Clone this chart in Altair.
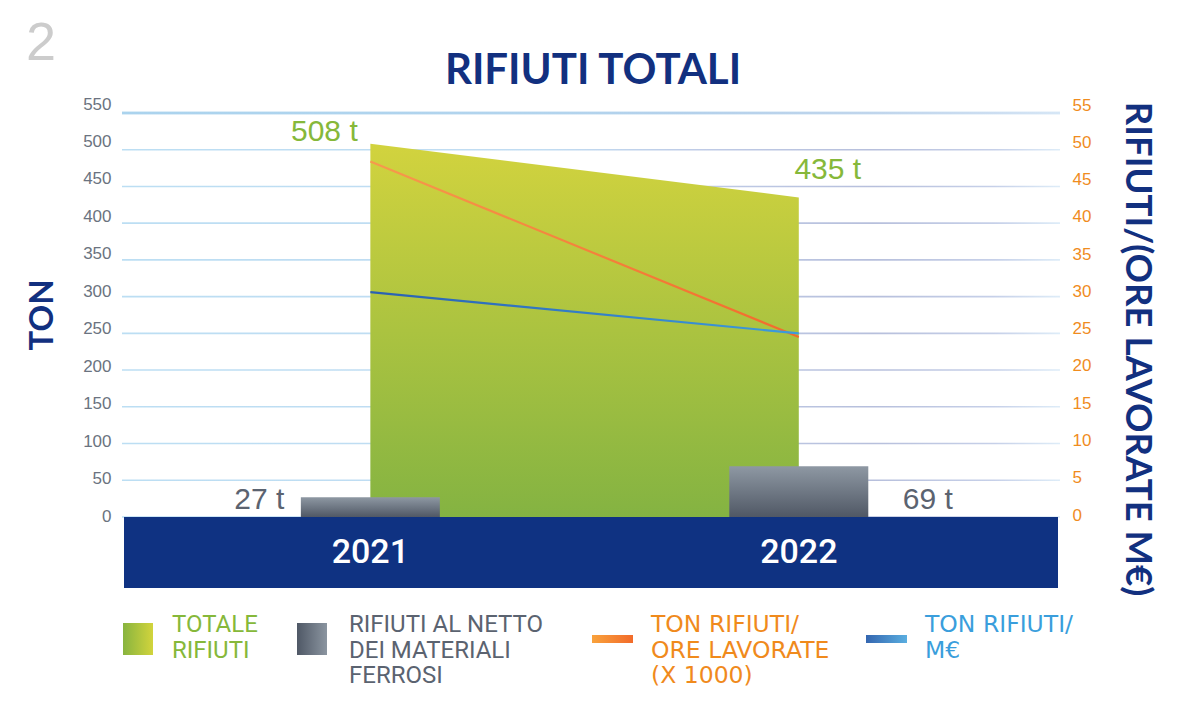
import altair as alt
import pandas as pd

# ---------------- data ----------------
years = [2021, 2022]
totale_rifiuti = [508, 435]                 # t (left axis)
rifiuti_netto_ferrosi = [27, 69]            # t (left axis)
ton_ore_lavorate_x1000 = [48.4, 24.5]       # right axis
ton_per_meur = [30.6, 25.0]                 # right axis

left_ticks = list(range(0, 551, 50))
right_ticks = list(range(0, 56, 5))

title_text = "RIFIUTI TOTALI"
left_title = "TON"
right_title = "RIFIUTI/(ORE LAVORATE M€)"
legend_labels = [
    ["TOTALE", "RIFIUTI"],
    ["RIFIUTI AL NETTO", "DEI MATERIALI", "FERROSI"],
    ["TON RIFIUTI/", "ORE LAVORATE", "(X 1000)"],
    ["TON RIFIUTI/", "M€"],
]

df = pd.DataFrame({
    "year": years,
    "total": totale_rifiuti,
    "netto": rifiuti_netto_ferrosi,
    "ore": ton_ore_lavorate_x1000,
    "meur": ton_per_meur,
})
ticks_df = pd.DataFrame({"tick": left_ticks})
rticks_df = pd.DataFrame({"rtick": right_ticks})

# ---------------- styling ----------------
W, H = 938, 475
NAVY = "#12307f"
GREEN_TXT = "#86b83a"
GRAY_TXT = "#5b6370"
ORANGE_TXT = "#f08a1c"
BLUE_TXT = "#3a9edc"

def lg(stops, x1=0, y1=0, x2=1, y2=0):
    return alt.LinearGradient(
        gradient="linear",
        stops=[alt.GradientStop(color=c, offset=o) for o, c in stops],
        x1=x1, y1=y1, x2=x2, y2=y2,
    )

xscale = alt.Scale(domain=[2020.432, 2022.598], nice=False, zero=False)
X = alt.X("year:Q", scale=xscale, axis=None)

# plotting scales (grid / marks)
yl_scale = alt.Scale(domain=[-96.7, 550], nice=False, zero=False)
yr_scale = alt.Scale(domain=[-9.67, 55], nice=False, zero=False)
# tick-label scales (labels in the reference are spaced slightly wider than the grid)
yl_lab_scale = alt.Scale(domain=[0, 550], range=[403, -9], nice=False, zero=False)
yr_lab_scale = alt.Scale(domain=[0, 55], range=[402, -8], nice=False, zero=False)

left_axis = alt.Axis(values=left_ticks, grid=False, domain=False, ticks=False,
                     orient="left",
                     labelColor="#6b7380", labelFontSize=17, labelFont="Liberation Sans",
                     labelPadding=11, title=None)
right_axis = alt.Axis(values=right_ticks, orient="right", grid=False, domain=False,
                      ticks=False, labelColor="#f08c1e", labelFontSize=17,
                      labelFont="Liberation Sans", labelPadding=12, title=None)

def YL(field):
    return alt.Y(field, scale=yl_scale, axis=None)

def YR(field):
    return alt.Y(field, scale=yr_scale, axis=None)

grid_grad = lg([(0, "#9fd0ee"), (0.45, "#a6cdec"), (0.62, "#a3b4db"),
                (0.8, "#98a4cd"), (0.93, "#aebcdf"), (1, "#cfe4f5")])

one = pd.DataFrame({"a": [0]})

# grid lines
grid = alt.Chart(ticks_df).mark_tick(thickness=1.6, size=W, color=grid_grad).encode(
    y=YL("tick:Q")
)
top_line = alt.Chart(ticks_df).transform_filter("datum.tick == 550").mark_tick(
    thickness=3, size=W, color=lg([(0, "#9ccbea"), (0.6, "#a8cdea"), (1, "#cfe2f4")])
).encode(y=YL("tick:Q"))

# bottom navy band
band = alt.Chart(one).mark_rect(color="#0f3282").encode(
    x=alt.value(2), x2=alt.value(936), y=alt.value(404), y2=alt.value(H)
)

area = alt.Chart(df).mark_area(
    color=lg([(0, "#d2d33e"), (1, "#84b342")], x1=0, y1=0, x2=0, y2=1)
).encode(x=X, y=YL("total:Q"), y2=alt.datum(0))

bars = alt.Chart(df).mark_bar(
    size=139, color=lg([(0, "#8e98a3"), (1, "#505865")], x1=0, y1=0, x2=0, y2=1)
).encode(x=X, y=YL("netto:Q"), y2=alt.datum(0))

year_lbl = alt.Chart(df).mark_text(
    font="Roboto", fontSize=34, fontWeight=500, color="white", baseline="middle"
).encode(x=X, y=alt.value(440), text=alt.Text("year:N"))

def val_label(field, yr, dx, dy, color):
    return alt.Chart(df).transform_filter(f"datum.year == {yr}").transform_calculate(
        lbl=f"format(datum.{field}, 'd') + ' t'"
    ).mark_text(font="Liberation Sans", fontSize=30, color=color, dx=dx, dy=dy,
                baseline="middle").encode(
        x=X, y=YL(f"{field}:Q"), text="lbl:N")

lbl508 = val_label("total", 2021, -46, -12, GREEN_TXT)
lbl435 = val_label("total", 2022, 29, -27, GREEN_TXT)
lbl27 = val_label("netto", 2021, -111, 3, GRAY_TXT)
lbl69 = val_label("netto", 2022, 129, 34, GRAY_TXT)

# decorations
num2 = alt.Chart(one).mark_text(text="2", font="Liberation Sans", fontSize=54,
                                color="#cccccc", align="center",
                                baseline="alphabetic").encode(
    x=alt.value(-81), y=alt.value(-53))
title = alt.Chart(one).mark_text(text=title_text, font="Lato", fontWeight="bold",
                                 fontSize=42, color=NAVY, align="center",
                                 baseline="alphabetic").encode(
    x=alt.value(471), y=alt.value(-29))
ton = alt.Chart(one).mark_text(text=left_title, font="Lato", fontWeight="bold",
                               fontSize=33, color=NAVY, angle=270, align="center",
                               baseline="middle").encode(
    x=alt.value(-79), y=alt.value(202))
rtitle = alt.Chart(one).mark_text(text=right_title, font="Lato", fontWeight="bold",
                                  fontSize=36.5, color=NAVY, angle=90, align="center",
                                  baseline="middle").encode(
    x=alt.value(1015), y=alt.value(236))

sw_green = alt.Chart(one).mark_rect(color=lg([(0, "#88b43f"), (1, "#d2d43c")])).encode(
    x=alt.value(1), x2=alt.value(31), y=alt.value(510), y2=alt.value(542))
sw_gray = alt.Chart(one).mark_rect(color=lg([(0, "#4f5866"), (1, "#8b95a0")])).encode(
    x=alt.value(175), x2=alt.value(205), y=alt.value(510), y2=alt.value(542))
sw_orange = alt.Chart(one).mark_rect(color=lg([(0, "#f9a23c"), (1, "#f26b2a")])).encode(
    x=alt.value(470), x2=alt.value(511), y=alt.value(522), y2=alt.value(530))
sw_blue = alt.Chart(one).mark_rect(color=lg([(0, "#3466b0"), (1, "#5aaee0")])).encode(
    x=alt.value(744), x2=alt.value(785), y=alt.value(522), y2=alt.value(530))

def leg_text(lines, x, color, font="Roboto", size=24, lh=25.5):
    return alt.Chart(one).mark_text(text=lines, font=font, fontSize=size,
                                    lineHeight=lh, color=color, align="left",
                                    baseline="alphabetic").encode(
        x=alt.value(x), y=alt.value(519))

lt1 = leg_text(legend_labels[0], 50, GREEN_TXT)
lt2 = leg_text(legend_labels[1], 227, GRAY_TXT)
lt3 = leg_text(legend_labels[2], 529, ORANGE_TXT, font="DejaVu Sans", size=23.5, lh=25.5)
lt4 = leg_text(legend_labels[3], 803, BLUE_TXT, font="DejaVu Sans", size=23.5, lh=25.5)

left_group = alt.layer(
    grid, top_line, band, area, bars, year_lbl, lbl508, lbl435, lbl27, lbl69,
    num2, title, ton, rtitle, sw_green, sw_gray, sw_orange, sw_blue, lt1, lt2, lt3, lt4,
)

# invisible layers that carry the tick-label axes
left_axis_layer = alt.Chart(ticks_df).mark_tick(opacity=0).encode(
    y=alt.Y("tick:Q", scale=yl_lab_scale, axis=left_axis))
right_axis_layer = alt.Chart(rticks_df).mark_tick(opacity=0).encode(
    y=alt.Y("rtick:Q", scale=yr_lab_scale, axis=right_axis))

line_ore = alt.Chart(df).mark_line(
    strokeWidth=2.2, color=lg([(0, "#f69a4c"), (1, "#f26a2c")])
).encode(x=X, y=YR("ore:Q"))
line_meur = alt.Chart(df).mark_line(
    strokeWidth=2.2, color=lg([(0, "#2a60b2"), (1, "#3d9cdc")])
).encode(x=X, y=YR("meur:Q"))

right_group = alt.layer(line_ore, line_meur)

chart = alt.layer(left_group, left_axis_layer, right_group, right_axis_layer).resolve_scale(
    y="independent"
).properties(
    width=W, height=H,
    autosize=alt.AutoSizeParams(type="none"),
    padding={"left": 114, "top": 105, "right": 125, "bottom": 120},
    background="white",
).configure_view(stroke=None)

chart.save("out.html", embed_options={"renderer": "svg", "actions": False})
